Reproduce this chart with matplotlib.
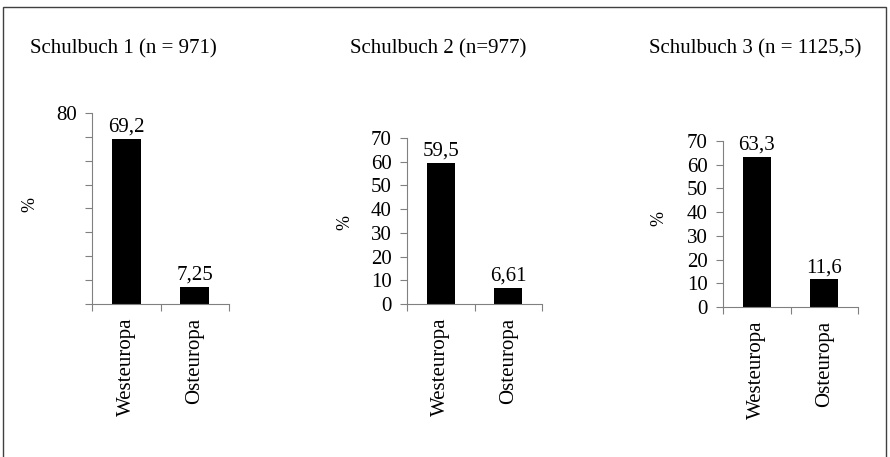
import matplotlib
matplotlib.use('Agg')
import matplotlib.pyplot as plt
from matplotlib.patches import Rectangle

plt.rcParams['font.family'] = ['Liberation Serif', 'DejaVu Serif']

# data
categories = ["Westeuropa", "Osteuropa"]
titles = ["Schulbuch 1 (n = 971)", "Schulbuch 2 (n=977)", "Schulbuch 3 (n = 1125,5)"]
values_1 = [69.2, 7.25]
values_2 = [59.5, 6.61]
values_3 = [63.3, 11.6]
value_labels_1 = ["69,2", "7,25"]
value_labels_2 = ["59,5", "6,61"]
value_labels_3 = ["63,3", "11,6"]
ymax = [80, 70, 70]

W, H = 890, 457
fig = plt.figure(figsize=(W / 100, H / 100), dpi=100)

# axes boxes in pixels: (left, right, top, bottom)
boxes = [(92, 229, 113, 304), (407, 542, 138, 304), (723, 858, 141, 307)]
title_pos = [(30, 49), (350, 49), (649, 49)]
ylabel_pos = [(30, 205), (345, 222), (659, 218)]

series = [(values_1, value_labels_1), (values_2, value_labels_2), (values_3, value_labels_3)]
axis_color = "#808080"
fs = 15

for i, ((l, r, t, b), (vals, labs)) in enumerate(zip(boxes, series)):
    ax = fig.add_axes([l / W, 1 - b / H, (r - l) / W, (b - t) / H])
    x = range(len(categories))
    ax.bar(x, vals, width=0.42, color="black")
    for xi, v, s in zip(x, vals, labs):
        ax.text(xi, v + 1.0, s, ha="center", va="bottom", fontsize=fs)
    ax.set_xlim(-0.5, 1.5)
    ax.set_ylim(0, ymax[i])
    for side in ["top", "right"]:
        ax.spines[side].set_visible(False)
    for side in ["left", "bottom"]:
        ax.spines[side].set_color(axis_color)
        ax.spines[side].set_linewidth(0.8)
    # category labels without ticks, boundary ticks as minor
    ax.set_xticks(list(x))
    ax.set_xticklabels(categories, rotation=90, fontsize=fs)
    ax.tick_params(axis="x", which="major", length=0, pad=10)
    ax.set_xticks([-0.5, 0.5, 1.5], minor=True)
    ax.tick_params(axis="x", which="minor", length=5, color=axis_color, width=0.8)
    yt = list(range(0, ymax[i] + 1, 10))
    ax.set_yticks(yt)
    if i == 0:
        ax.set_yticklabels(["" if v != ymax[i] else str(v) for v in yt])
    else:
        ax.set_yticklabels([str(v) for v in yt])
    ax.tick_params(axis="y", length=5, color=axis_color, width=0.8, labelsize=fs, pad=6)
    fig.text(title_pos[i][0] / W, 1 - title_pos[i][1] / H, titles[i],
             ha="left", va="center", fontsize=fs)
    fig.text(ylabel_pos[i][0] / W, 1 - ylabel_pos[i][1] / H, "%",
             rotation=90, ha="center", va="center", fontsize=13)

# outer frame
fig.patches.append(Rectangle((3 / W, -0.05), 883 / W, 1.05 - 7 / H,
                             transform=fig.transFigure, fill=False,
                             edgecolor="#404040", linewidth=1.0))

fig.savefig("out.png", dpi=100)
